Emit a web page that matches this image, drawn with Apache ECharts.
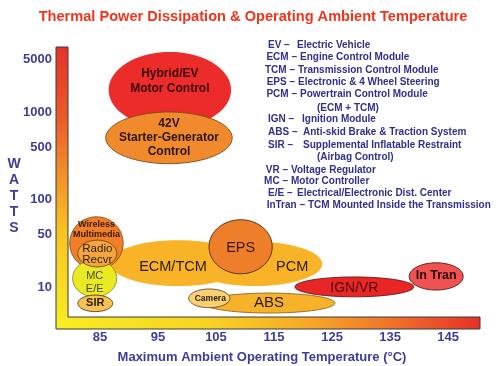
<!DOCTYPE html>
<html>
<head>
<meta charset="utf-8">
<script src="https://cdn.jsdelivr.net/npm/echarts@6/dist/echarts.min.js"></script>
<style>
html,body{margin:0;padding:0;background:#fff;}
#c{width:500px;height:366px;}
</style>
</head>
<body>
<div id="c"></div>
<script>
// ---------- DATA ----------
const xTickLabels = [85, 95, 105, 115, 125, 135, 145];
const yTickWatts = [10, 50, 100, 500, 1000, 5000];
// non-uniform schematic watt scale used by the original chart (axis units of each tick)
const yTickPos = [0, 0.6, 1, 1.6, 2, 2.6];

const shapeNames = ['Hybrid/EV\nMotor Control', '42V\nStarter-Generator\nControl', 'ECM/TCM', 'PCM', 'EPS', 'ABS', 'Camera', 'IGN/VR', 'In Tran', 'Wireless\nMultimedia', 'MC\nE/E', 'Radio\nRecvr', 'SIR'];
const tempMin  = [86.5, 86.0, 86.7, 100.2, 103.8, 102.8, 100.3, 118.6, 138.3, 79.8, 80.3, 81.2, 81.2];
const tempMax  = [107.6, 107.8, 110.2, 123.3, 114.7, 125.5, 107.4, 139.1, 147.6, 89.0, 87.9, 87.9, 87.2];
const wattsMin = [730, 300, 10.3, 10.3, 15, 4.5, 5.3, 7.4, 9.1, 17, 7.4, 18.5, 4.7];
const wattsMax = [6300, 1000, 42, 40, 67, 8.3, 9.4, 13.6, 21, 71, 23, 42, 7.8];

const legendTerms = ['EV –', 'ECM –', 'TCM –', 'EPS –', 'PCM –', '', 'IGN –', 'ABS –', 'SIR –', '', 'VR –', 'MC –', 'E/E –', 'InTran –'];
const legendDescs = ['Electric Vehicle', 'Engine Control Module', 'Transmission Control Module', 'Electronic & 4 Wheel Steering', 'Powertrain Control Module', '(ECM + TCM)', 'Ignition Module', 'Anti-skid Brake & Traction System', 'Supplemental Inflatable Restraint', '(Airbag Control)', 'Voltage Regulator', 'Motor Controller', 'Electrical/Electronic Dist. Center', 'TCM Mounted Inside the Transmission'];

// ---------- STYLE / LAYOUT ----------
const FF = '"Liberation Sans", Arial, sans-serif';
const BLUE = '#3d3d99';
const LEG = '#30308f';
const shapeStyles = [
  {fill:'#ec2b2b', stroke:null, font:'bold 12px', color:'#3a0808', lh:15, off:[0,-9]},
  {fill:'#f08a2c', stroke:'#7a4a1a', font:'bold 12px', color:'#2a1508', lh:14, off:[0,0]},
  {fill:'#f8b426', stroke:null, font:'14.5px', color:'#2a1a08', lh:15, off:[-5,4]},
  {fill:'#f8b426', stroke:null, font:'14.5px', color:'#2a1a08', lh:15, off:[37,3]},
  {fill:'#ef7e2a', stroke:'#4a2a10', font:'14.5px', color:'#3a1a08', lh:15, off:[0,1]},
  {fill:'#f8b22a', stroke:'#8a6a2a', font:'15px', color:'#2a1a08', lh:15, off:[0,0]},
  {fill:'#fbd070', stroke:'#5a4a2a', font:'bold 8.5px', color:'#2a1a08', lh:10, off:[1,0]},
  {fill:'#e82626', stroke:'#6a1a1a', font:'14px', color:'#4a0a0a', lh:15, off:[0,1]},
  {fill:'#f05252', stroke:'#4a1a1a', font:'bold 12.5px', color:'#2a0808', lh:14, off:[0,-1]},
  {fill:'#f07f28', stroke:'#8a4a1a', font:'bold 9px', color:'#3a1a08', lh:10, off:[0,-14]},
  {fill:'#eaea22', stroke:'#8a8a2a', font:'11px', color:'#4a4a3a', lh:13, off:[0,4]},
  {fill:'#f6a63e', stroke:'#6a4a1a', font:'11.5px', color:'#2a1a08', lh:11, off:[0,1]},
  {fill:'#f8c252', stroke:'#4a3a1a', font:'bold 11px', color:'#2a1a08', lh:12, off:[0,0]}
];
const legendY = [45, 57, 70, 82, 94, 108, 119, 132, 145, 157, 170, 181, 193, 205];
const legendDescX = [297, 300, 298, 298, 300, 317, 302, 303, 303, 317, 291, 291, 297, 308];

// watts -> axis position, piecewise on log10 between tick values
function wattsToPos(w) {
  const lw = Math.log10(w);
  let i = 0;
  if (w <= yTickWatts[0]) i = 0;
  else if (w >= yTickWatts[yTickWatts.length - 1]) i = yTickWatts.length - 2;
  else { while (!(w >= yTickWatts[i] && w <= yTickWatts[i + 1])) i++; }
  const a = Math.log10(yTickWatts[i]), b = Math.log10(yTickWatts[i + 1]);
  return yTickPos[i] + (lw - a) / (b - a) * (yTickPos[i + 1] - yTickPos[i]);
}

const shapeData = shapeNames.map((n, i) => ({
  name: n,
  value: [tempMin[i], tempMax[i], wattsToPos(wattsMin[i]), wattsToPos(wattsMax[i])]
}));

const chart = echarts.init(document.getElementById('c'), null, {renderer: 'canvas'});

const vGrad = new echarts.graphic.LinearGradient(0, 0, 0, 1, [
  {offset: 0, color: '#e8302a'}, {offset: 0.25, color: '#ec5a2a'},
  {offset: 0.45, color: '#f29028'}, {offset: 0.65, color: '#f8c222'},
  {offset: 1, color: '#f8ee22'}]);
const hGrad = new echarts.graphic.LinearGradient(0, 0, 1, 0, [
  {offset: 0, color: '#f8ee22'}, {offset: 0.35, color: '#f8d422'},
  {offset: 0.6, color: '#f6a828'}, {offset: 0.82, color: '#ee6a2a'},
  {offset: 1, color: '#e8302a'}]);

const graphics = [
  {type:'rect', shape:{x:56, y:47, width:12, height:282}, style:{fill:vGrad}, z:1},
  {type:'rect', shape:{x:56, y:317, width:424, height:12}, style:{fill:hGrad}, z:1},
  {type:'polygon', shape:{points:[[56,47],[68,47],[68,317],[480,317],[480,329],[56,329]]},
   style:{fill:null, stroke:'#3a3a3a', lineWidth:1}, z:2},
  {type:'text', style:{text:'W\nA\nT\nT\nS', x:14, y:156, align:'center', verticalAlign:'top',
   font:'bold 14px ' + FF, fill:BLUE, lineHeight:16}, z:3},
  {type:'text', style:{text:'Maximum Ambient Operating Temperature (°C)', x:262, y:357, align:'center',
   verticalAlign:'middle', font:'bold 13px ' + FF, fill:BLUE}, z:3}
];
const mctx = document.createElement('canvas').getContext('2d');
mctx.font = 'bold 10px ' + FF;
legendTerms.forEach((t, i) => {
  if (t) {
    const w = mctx.measureText(t).width;
    const x = Math.min(268, legendDescX[i] - 3 - w);
    graphics.push({type:'text', style:{text:t, x:x, y:legendY[i], align:'left', verticalAlign:'middle',
      font:'bold 10px ' + FF, fill:LEG}, z:3});
  }
  graphics.push({type:'text', style:{text:legendDescs[i], x:legendDescX[i], y:legendY[i], align:'left', verticalAlign:'middle',
    font:'bold 10px ' + FF, fill:LEG}, z:3});
});

function renderItem(params, api) {
  const i = params.dataIndex;
  const s = shapeStyles[i];
  const p1 = api.coord([api.value(0), api.value(3)]);
  const p2 = api.coord([api.value(1), api.value(2)]);
  const cx = (p1[0] + p2[0]) / 2, cy = (p1[1] + p2[1]) / 2;
  const rx = Math.abs(p2[0] - p1[0]) / 2, ry = Math.abs(p2[1] - p1[1]) / 2;
  const pts = [];
  for (let k = 0; k < 72; k++) {
    const a = k / 72 * Math.PI * 2;
    pts.push([cx + rx * Math.cos(a), cy + ry * Math.sin(a)]);
  }
  return {
    type: 'group',
    children: [
      {type:'polygon', z2: i, shape:{points:pts}, style:{fill:s.fill, stroke:s.stroke || null, lineWidth:s.stroke ? 0.9 : 0}},
      {type:'text', z2: 100 + i, style:{text:shapeNames[i], x:cx + s.off[0], y:cy + s.off[1], align:'center', verticalAlign:'middle',
        font:s.font + ' ' + FF, fill:s.color, lineHeight:s.lh}}
    ]
  };
}

chart.setOption({
  animation: false,
  backgroundColor: '#ffffff',
  title: {
    text: 'Thermal Power Dissipation & Operating Ambient Temperature',
    left: 248, top: 4, textAlign: 'center',
    textStyle: {color:'#f2341c', fontSize:14.6, fontWeight:'bold', fontFamily:FF}
  },
  grid: {left: 68, right: 20, top: 47, bottom: 49},
  xAxis: {
    type: 'value', min: 79.5, max: 150.5,
    axisLine: {show:false}, axisTick: {show:false}, splitLine: {show:false},
    axisLabel: {customValues: xTickLabels, margin: 14, color: BLUE, fontWeight:'bold', fontSize:13, fontFamily:FF}
  },
  yAxis: {
    type: 'value', min: -0.343, max: 2.743,
    axisLine: {show:false}, axisTick: {show:false}, splitLine: {show:false},
    axisLabel: {
      customValues: yTickPos, margin: 16, color: BLUE, fontWeight:'bold', fontSize:13, fontFamily:FF,
      formatter: function (v) {
        for (let k = 0; k < yTickPos.length; k++) if (Math.abs(v - yTickPos[k]) < 1e-6) return String(yTickWatts[k]);
        return '';
      }
    }
  },
  graphic: graphics,
  series: [{
    type: 'custom',
    renderItem: renderItem,
    clip: false,
    encode: {x: [0, 1], y: [2, 3]},
    data: shapeData,
    z: 5
  }]
});
</script>
</body>
</html>
